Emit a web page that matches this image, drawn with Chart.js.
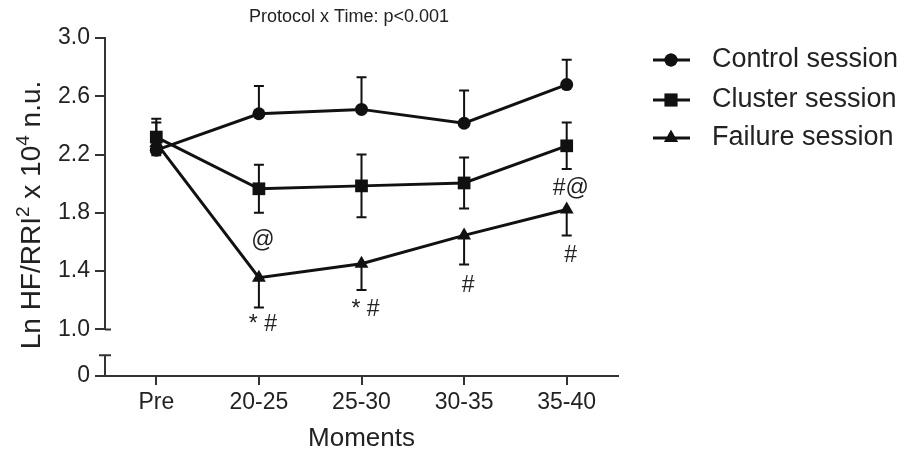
<!DOCTYPE html>
<html>
<head>
<meta charset="utf-8">
<script src="https://cdn.jsdelivr.net/npm/chart.js@4"></script>
<style>
  html, body { margin: 0; padding: 0; background: #fff; }
  #wrap { width: 907px; height: 454px; }
</style>
</head>
<body>
<div id="wrap"><canvas id="lineChart"></canvas></div>
<script>
const moments = ['Pre', '20-25', '25-30', '30-35', '35-40'];

const controlMean = [2.23, 2.48, 2.51, 2.415, 2.68];
const controlSD = [0.19, 0.19, 0.22, 0.225, 0.17];
const clusterMean = [2.32, 1.965, 1.985, 2.005, 2.26];
const clusterSD = [0.125, 0.165, 0.215, 0.175, 0.16];
const failureMean = [2.28, 1.355, 1.45, 1.645, 1.823];
const failureSD = [0.06, 0.205, 0.18, 0.2, 0.178];

const seriesNames = ['Control session', 'Cluster session', 'Failure session'];

// broken y axis: the real 0 is drawn just under 1.0
const zeroAt = 0.68;
const yTicks = [zeroAt, 1.0, 1.4, 1.8, 2.2, 2.6, 3.0];
const yTickLabels = ['0', '1.0', '1.4', '1.8', '2.2', '2.6', '3.0'];

// y title pieces: [text, superscript?]
const yTitleParts = [['Ln HF/RRI', false], ['2', true], [' x 10', false], ['4', true], [' n.u.', false]];

// significance marks (moment, value where the text sits, text)
const markMoments = ['20-25', '20-25', '25-30', '30-35', '35-40', '35-40'];
const markValues = [1.61, 1.034, 1.137, 1.30, 1.507, 1.965];
const markTexts = ['@', '* #', '* #', '#', '#', '#@'];

const FONT = "'Liberation Sans', Arial, sans-serif";
const INK = '#111';

const errorBars = {
  id: 'errorBars',
  beforeDatasetsDraw(chart) {
    const ctx = chart.ctx;
    const y = chart.scales.y;
    ctx.save();
    ctx.strokeStyle = INK;
    ctx.lineWidth = 2;
    chart.data.datasets.forEach((ds, i) => {
      const meta = chart.getDatasetMeta(i);
      meta.data.forEach((pt, j) => {
        const m = ds.data[j], sd = ds.sd[j];
        const hi = ds.errDir === 'down' ? m : m + sd;
        const lo = ds.errDir === 'up' ? m : m - sd;
        const yHi = y.getPixelForValue(hi), yLo = y.getPixelForValue(lo);
        ctx.beginPath();
        ctx.moveTo(pt.x, yHi); ctx.lineTo(pt.x, yLo);
        if (ds.errDir !== 'down') { ctx.moveTo(pt.x - 5, yHi); ctx.lineTo(pt.x + 5, yHi); }
        if (ds.errDir !== 'up') { ctx.moveTo(pt.x - 5, yLo); ctx.lineTo(pt.x + 5, yLo); }
        ctx.stroke();
      });
    });
    ctx.restore();
  }
};

const extras = {
  id: 'extras',
  afterDraw(chart) {
    const ctx = chart.ctx;
    const x = chart.scales.x, y = chart.scales.y;
    const left = chart.chartArea.left;
    ctx.save();
    ctx.strokeStyle = '#333';
    ctx.lineWidth = 2;
    // upper y axis segment
    ctx.beginPath();
    ctx.moveTo(left, y.getPixelForValue(3.0) - 1);
    ctx.lineTo(left, y.getPixelForValue(1.0));
    ctx.moveTo(left, y.getPixelForValue(1.0));
    ctx.lineTo(left + 6, y.getPixelForValue(1.0));
    // lower segment with cap
    const capY = y.getPixelForValue(0.822);
    ctx.moveTo(left, y.getPixelForValue(zeroAt));
    ctx.lineTo(left, capY);
    ctx.moveTo(left - 6, capY);
    ctx.lineTo(left + 6, capY);
    ctx.stroke();

    // y title with real superscripts
    ctx.save();
    ctx.translate(30, 215);
    ctx.rotate(-Math.PI / 2);
    ctx.fillStyle = '#222';
    ctx.textBaseline = 'alphabetic';
    ctx.textAlign = 'left';
    const fontFor = sup => (sup ? '19px ' : '28px ') + FONT;
    let total = 0;
    yTitleParts.forEach(([t, sup]) => { ctx.font = fontFor(sup); total += ctx.measureText(t).width; });
    let cx = -total / 2;
    yTitleParts.forEach(([t, sup]) => {
      ctx.font = fontFor(sup);
      ctx.fillText(t, cx, sup ? -1 : 10);
      cx += ctx.measureText(t).width;
    });
    ctx.restore();

    // significance marks
    ctx.fillStyle = '#222';
    ctx.font = '23px ' + FONT;
    ctx.textAlign = 'center';
    ctx.textBaseline = 'middle';
    markTexts.forEach((t, i) => {
      const px = x.getPixelForValue(moments.indexOf(markMoments[i]));
      ctx.fillText(t, px + 4, y.getPixelForValue(markValues[i]));
    });

    // top note
    ctx.font = '18px ' + FONT;
    ctx.fillText('Protocol x Time: p<0.001', 349, 17);

    // legend
    const rows = [60, 100, 138];
    chart.data.datasets.forEach((ds, i) => {
      const ry = rows[i];
      ctx.strokeStyle = INK;
      ctx.lineWidth = 3;
      ctx.beginPath();
      ctx.moveTo(653, ry); ctx.lineTo(690, ry);
      ctx.stroke();
      ctx.fillStyle = INK;
      Chart.helpers.drawPoint(ctx, {pointStyle: ds.pointStyle, radius: ds.pointRadius, borderWidth: 0}, 671, ry);
      ctx.fill();
      ctx.fillStyle = '#222';
      ctx.font = '27px ' + FONT;
      ctx.textAlign = 'left';
      ctx.fillText(ds.label, 712, ry);
    });
    ctx.restore();
  }
};

const makeSet = (label, data, sd, errDir, style, radius) => ({
  label, data, sd, errDir,
  borderColor: INK, backgroundColor: INK, borderWidth: 3,
  pointStyle: style, pointRadius: radius, pointBorderWidth: 0,
  pointBackgroundColor: INK, tension: 0, clip: false
});

new Chart(document.getElementById('lineChart'), {
  type: 'line',
  data: {
    labels: moments,
    datasets: [
      makeSet(seriesNames[0], controlMean, controlSD, 'up', 'circle', 6.5),
      makeSet(seriesNames[1], clusterMean, clusterSD, 'both', 'rect', 9),
      makeSet(seriesNames[2], failureMean, failureSD, 'down', 'triangle', 8)
    ]
  },
  options: {
    responsive: true,
    maintainAspectRatio: false,
    animation: false,
    layout: { padding: { top: 38, right: 289, bottom: 0, left: 0 } },
    plugins: { legend: { display: false }, tooltip: { enabled: false } },
    scales: {
      x: {
        offset: true,
        grid: { drawOnChartArea: false, drawTicks: true, tickLength: 9, color: '#333', lineWidth: 2 },
        border: { display: true, color: '#333', width: 2 },
        ticks: { color: '#222', font: { family: FONT, size: 23 }, padding: 4 },
        title: { display: true, text: 'Moments', color: '#222', font: { family: FONT, size: 26 }, padding: { top: 0, bottom: 0 } },
        afterFit: s => { s.height = 78; }
      },
      y: {
        min: zeroAt,
        max: 3.0,
        afterBuildTicks: s => { s.ticks = yTicks.map(v => ({ value: v })); },
        ticks: {
          color: '#222', font: { family: FONT, size: 23 }, padding: 5,
          callback: v => yTickLabels[yTicks.indexOf(v)]
        },
        grid: { drawOnChartArea: false, drawTicks: true, tickLength: 10, color: '#333', lineWidth: 2 },
        border: { display: false },
        afterFit: s => { s.width = 105; }
      }
    }
  },
  plugins: [errorBars, extras]
});
</script>
</body>
</html>
